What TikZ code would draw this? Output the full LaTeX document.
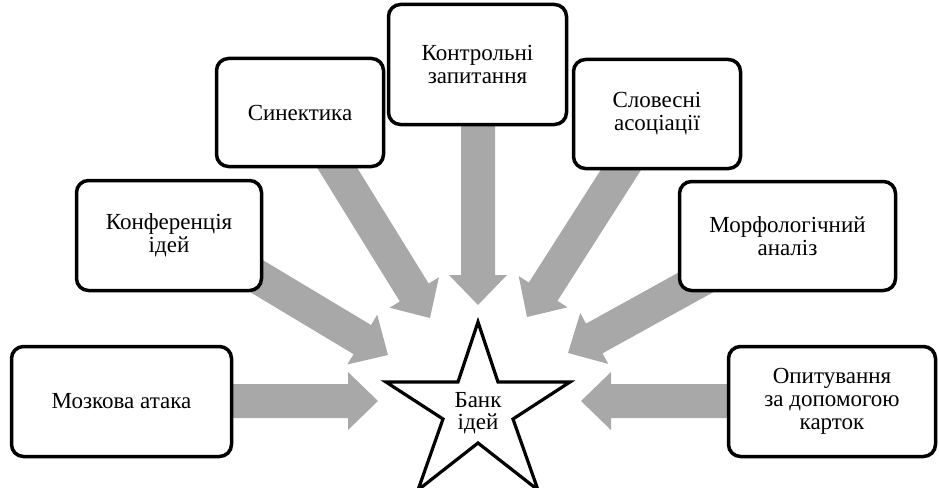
\documentclass[tikz,border=0pt]{standalone}
\usepackage{fontspec}
\setmainfont{Liberation Serif}
\usetikzlibrary{calc}
\definecolor{arrowgray}{RGB}{168,168,168}
\newcommand\blockarrow[2]{%
  \coordinate (ba) at ($(#2)!30pt!(#1)$);
  \fill[arrowgray] ($(#1)!17pt!90:(#2)$) -- ($(ba)!17pt!90:(#2)$) -- ($(ba)!29pt!90:(#2)$) -- (#2)
    -- ($(ba)!29pt!-90:(#2)$) -- ($(ba)!17pt!-90:(#2)$) -- ($(#1)!17pt!-90:(#2)$) -- cycle;
}
\tikzset{
  ideabox/.style={draw=black, line width=3.5pt, rounded corners=12pt, fill=white,
    align=center, inner sep=0pt, font=\fontsize{23}{23}\selectfont},
  startext/.style={align=center, inner sep=0pt, font=\fontsize{23}{22}\selectfont},
}
\begin{document}
\begin{tikzpicture}[x=1pt,y=-1pt]
\useasboundingbox (0,0) rectangle (939,487);
% arrow start and tip coordinates
\coordinate (s1) at (200,401);   \coordinate (t1) at (378,401);
\coordinate (s2) at (218,253);   \coordinate (t2) at (388,355);
\coordinate (s3) at (320,140);   \coordinate (t3) at (430,318);
\coordinate (s4) at (478,100);   \coordinate (t4) at (478,305);
\coordinate (s5) at (640,140);   \coordinate (t5) at (527,317);
\coordinate (s6) at (720,269);   \coordinate (t6) at (568,353);
\coordinate (s7) at (760,401);   \coordinate (t7) at (581,401);
\blockarrow{s1}{t1}
\blockarrow{s2}{t2}
\blockarrow{s3}{t3}
\blockarrow{s4}{t4}
\blockarrow{s5}{t5}
\blockarrow{s6}{t6}
\blockarrow{s7}{t7}
% boxes
\node[ideabox, minimum width=220pt, minimum height=110pt] (moz) at (121.5,401.5) {Мозкова атака};
\node[ideabox, minimum width=185pt, minimum height=110pt] (konf) at (169,235.5) {Конференція\\ідей};
\node[ideabox, minimum width=167pt, minimum height=108pt] (syn) at (300,112.5) {Синектика};
\node[ideabox, minimum width=178pt, minimum height=120pt] (kontr) at (477.5,64.5) {Контрольні\\запитання};
\node[ideabox, minimum width=167pt, minimum height=109pt] (slov) at (657,114) {Словесні\\асоціації};
\node[ideabox, minimum width=216pt, minimum height=109pt] (morf) at (787.5,236) {Морфологічний\\аналіз};
\node[ideabox, minimum width=207pt, minimum height=110pt] (opyt) at (832,401.5) {Опитування\\за допомогою\\карток};
% star
\draw[line width=3.2pt, fill=white, line join=miter]
  (478,322) -- (498,382) -- (570,382) -- (513,419) -- (538,490) -- (478,443)
  -- (418,490) -- (443,419) -- (386,382) -- (458,382) -- cycle;
\node[startext] (bank) at (478,413) {Банк\\ідей};
\end{tikzpicture}
\end{document}
